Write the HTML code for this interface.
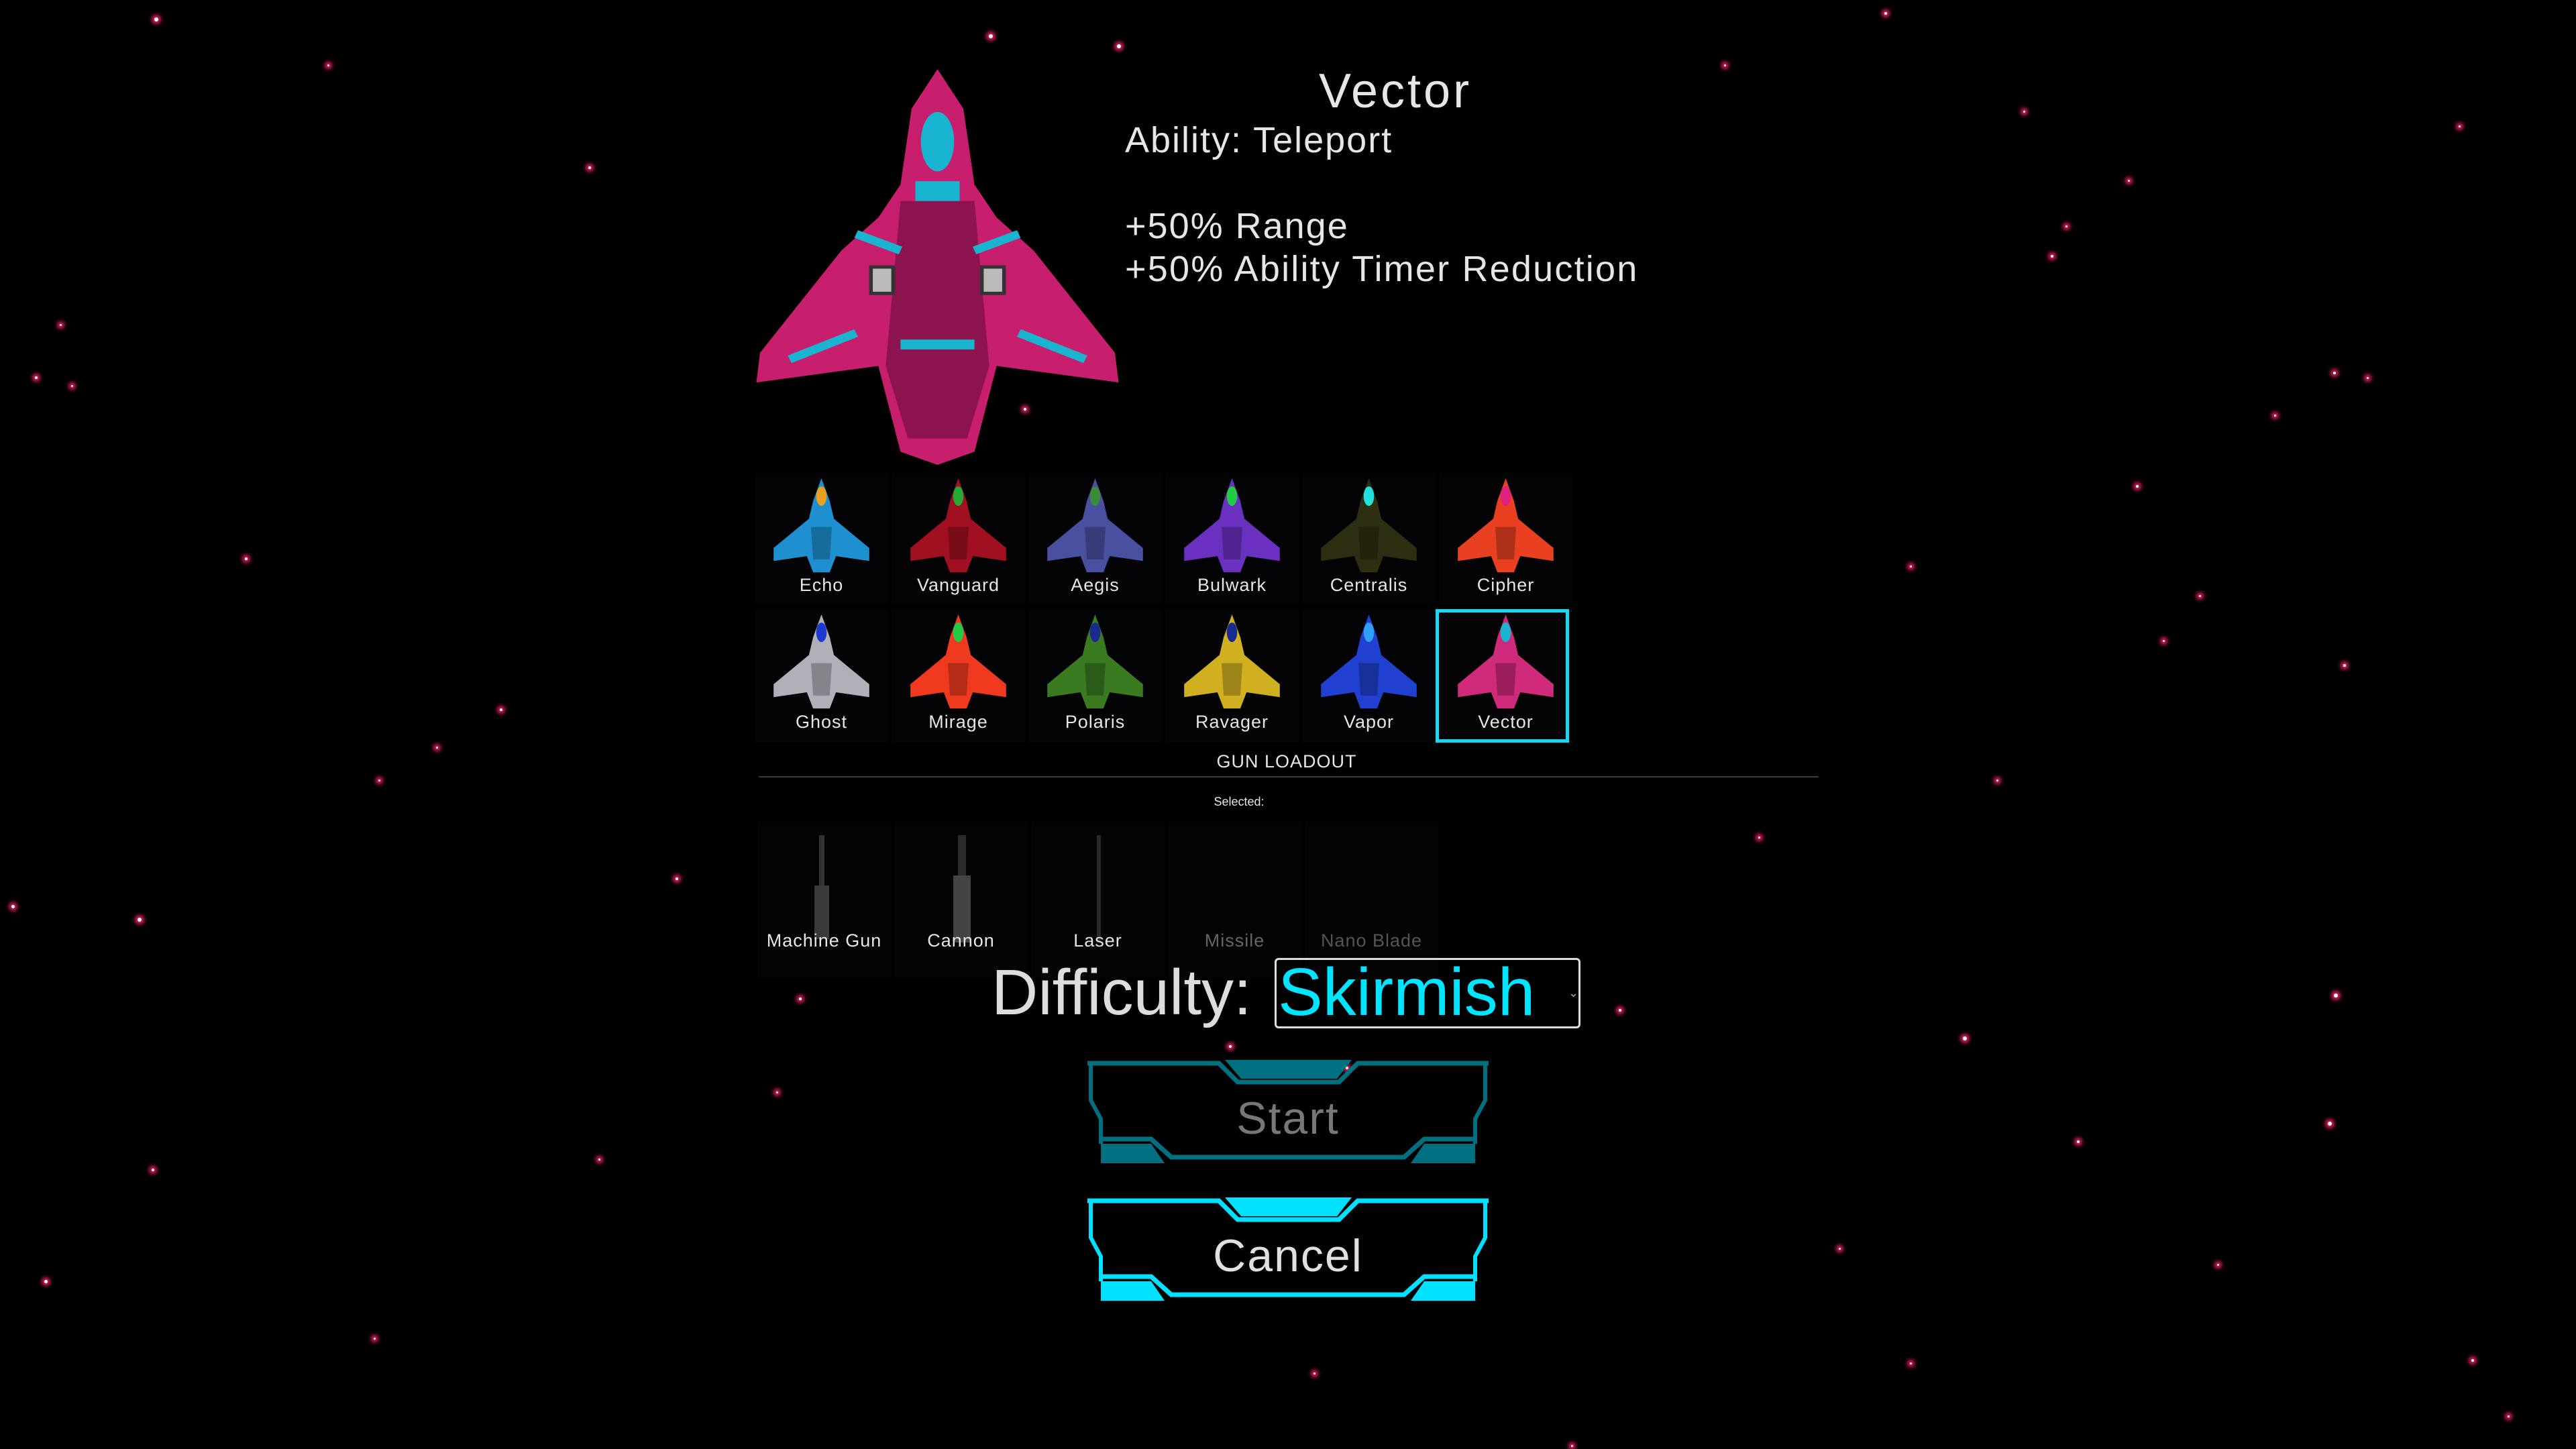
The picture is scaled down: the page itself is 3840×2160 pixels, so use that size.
<!DOCTYPE html>
<html><head><meta charset="utf-8"><style>
html,body{margin:0;padding:0;background:#000;width:3840px;height:2160px;overflow:hidden;position:relative;font-family:"Liberation Sans",sans-serif;color:#e6e6e6}
.a{position:absolute}
.star{position:absolute;border-radius:50%;background:#fff;box-shadow:0 0 6px 4px #e0205a}
.cell{position:absolute;width:199px;background:#040406}
.lbl{position:absolute;left:0;width:100%;text-align:center;font-size:27px;color:#e6e6e6;letter-spacing:1px}
.gl{position:absolute;left:0;width:100%;text-align:center;font-size:27px;letter-spacing:1px}
</style></head><body>
<svg width="0" height="0" style="position:absolute"><defs>
<g id="ship">
<path d="M50 0 L58 28 L62 50 L96 86 L96 102 L64 96 L58 116 L42 116 L36 96 L4 102 L4 86 L38 50 L42 28 Z"/>
</g>
</defs></svg>

<div id="stars"></div>

<svg class="a" style="left:1122px;top:103px" width="551" height="590" viewBox="0 0 100 120" preserveAspectRatio="none">
<path fill="#c81e6e" d="M50 0 L57 12 L60 35 L66 45 L76 55 L98 86 L99 95 L66 90 L60 116 L50 120 L40 116 L34 90 L1 95 L2 86 L24 55 L34 45 L40 35 L43 12 Z"/>
<path fill="#8e1450" d="M40 40 L60 40 L64 90 L58 112 L42 112 L36 90 Z"/>
<ellipse cx="50" cy="22" rx="4.5" ry="9" fill="#19b5d0"/>
<rect x="44" y="34" width="12" height="6" fill="#19b5d0"/>
<rect x="32" y="60" width="6" height="8" fill="#bbb" stroke="#333"/>
<rect x="62" y="60" width="6" height="8" fill="#bbb" stroke="#333"/>
<path d="M10 88 L28 80 M90 88 L72 80 M28 50 L40 55 M72 50 L60 55" stroke="#19b5d0" stroke-width="2.5"/>
<rect x="40" y="82" width="20" height="3" fill="#19b5d0"/>
</svg>

<div class="a" style="left:1830px;top:95px;width:500px;text-align:center;font-size:72px;letter-spacing:4px">Vector</div>
<div class="a" style="left:1677px;top:178px;font-size:54px;letter-spacing:2px">Ability: Teleport</div>
<div class="a" style="left:1677px;top:306px;font-size:54px;letter-spacing:2px">+50% Range</div>
<div class="a" style="left:1677px;top:370px;font-size:54px;letter-spacing:2.2px">+50% Ability Timer Reduction</div>

<div id="grid"></div>

<div class="a" style="left:2140px;top:908px;width:189px;height:189px;border:5px solid #18d8f2"></div>

<div class="a" style="left:1718px;top:1120px;width:400px;text-align:center;font-size:27px;letter-spacing:1px">GUN LOADOUT</div>
<div class="a" style="left:1131px;top:1157px;width:1580px;height:2px;background:#3a3a3a"></div>
<div class="a" style="left:1747px;top:1185px;width:200px;text-align:center;font-size:18px">Selected:</div>

<div id="guns"></div>

<div class="a" style="left:1478px;top:1425px;font-size:96px;color:#ddd">Difficulty:</div>
<div class="a" style="left:1900px;top:1428px;width:450px;height:99px;border:3px solid #ddd;border-radius:6px"></div>
<div class="a" style="left:1905px;top:1422px;font-size:100px;color:#00e5ff">Skirmish</div>
<div class="a" style="left:2338px;top:1470px;font-size:18px;color:#aaa">⌄</div>

<svg class="a" style="left:1621px;top:1580px" width="598" height="154" viewBox="0 0 598 154" fill="none" stroke="#007080">
<polyline points="0,5 196,5 224,33 375,33 403,5 598,5" stroke-width="7"/>
<polygon points="205,0 394,0 372,28 229,28" fill="#007080" stroke="none"/>
<polyline points="5,5 5,60 20,88 20,125" stroke-width="6"/>
<polyline points="593,5 593,60 578,88 578,125" stroke-width="6"/>
<polyline points="20,118 95,118 125,145 472,145 502,118 578,118" stroke-width="7"/>
<polygon points="20,125 95,125 115,154 20,154" fill="#007080" stroke="none"/>
<polygon points="578,125 502,125 482,154 578,154" fill="#007080" stroke="none"/>
</svg>
<div class="a" style="left:1621px;top:1628px;width:598px;text-align:center;font-size:68px;color:#777;letter-spacing:2px">Start</div>

<svg class="a" style="left:1621px;top:1785px" width="598" height="154" viewBox="0 0 598 154" fill="none" stroke="#00e1ff">
<polyline points="0,5 196,5 224,33 375,33 403,5 598,5" stroke-width="7"/>
<polygon points="205,0 394,0 372,28 229,28" fill="#00e1ff" stroke="none"/>
<polyline points="5,5 5,60 20,88 20,125" stroke-width="6"/>
<polyline points="593,5 593,60 578,88 578,125" stroke-width="6"/>
<polyline points="20,118 95,118 125,145 472,145 502,118 578,118" stroke-width="7"/>
<polygon points="20,125 95,125 115,154 20,154" fill="#00e1ff" stroke="none"/>
<polygon points="578,125 502,125 482,154 578,154" fill="#00e1ff" stroke="none"/>
</svg>
<div class="a" style="left:1621px;top:1833px;width:598px;text-align:center;font-size:68px;color:#e0e0e0;letter-spacing:2px">Cancel</div>

<script>
var S=2.449;
var st=[[95,12,3],[603,22,3],[681,28,3],[1148,8,2],[359,102,2],[1249,156,2],[1258,138,1.5],[37,198,1.5],[22,230,2],[44,235,1.5],[150,340,2],[305,432,2],[266,455,1.5],[231,475,1.5],[8,552,2.5],[85,560,3],[412,535,2],[487,608,2],[473,665,1.5],[93,712,2],[365,706,1.5],[28,780,2.5],[228,815,1.5],[1422,606,3],[1196,632,3],[1418,684,3],[1265,695,2],[1421,227,2],[1441,230,1.5],[1385,253,1.5],[1301,296,2],[1339,363,1.5],[1317,390,1.5],[1427,405,2],[1216,475,1.5],[1071,510,1.5],[1163,345,1.5],[1505,828,2],[1527,862,1.5],[800,836,1.5],[1163,830,1.5],[957,880,1.5],[1497,77,1.5],[1232,68,1.5],[749,637,2],[624,249,2],[1296,110,1.5],[200,40,1.5],[1050,40,1.5],[986,615,2],[470,320,1.5],[820,650,2],[1120,760,1.5],[1350,770,1.5],[60,890,1]];
var h='';st.forEach(function(s){var r=s[2]*2;h+='<div class="star" style="left:'+(s[0]*S-r/2)+'px;top:'+(s[1]*S-r/2)+'px;width:'+r+'px;height:'+r+'px"></div>';});
document.getElementById('stars').innerHTML=h;
var ships=[["Echo","#1e90d0","#e8a020"],["Vanguard","#a01020","#22aa33"],["Aegis","#4a50a0","#3a8a3a"],["Bulwark","#6a30c0","#22cc44"],["Centralis","#2e2e12","#20e0e0"],["Cipher","#e84020","#e02080"],["Ghost","#b0b0b8","#1a3ad0"],["Mirage","#f03a20","#22cc44"],["Polaris","#3a7a20","#1a2a90"],["Ravager","#d0b020","#1a2a90"],["Vapor","#2040d0","#30a0ff"],["Vector","#d02a7a","#19b5d0"]];
h='';ships.forEach(function(s,i){var c=i%6,r=Math.floor(i/6);var L=1125+c*204,T=r?908:705,H=r?199:195;
h+='<div class="cell" style="left:'+L+'px;top:'+T+'px;height:'+H+'px"><svg style="position:absolute;left:22px;top:8px" width="155" height="145" viewBox="0 0 100 120" preserveAspectRatio="none"><use href="#ship" fill="'+s[1]+'"/><ellipse cx="50" cy="22" rx="5" ry="12" fill="'+s[2]+'"/><path d="M40 60 L60 60 L58 100 L42 100Z" fill="rgba(0,0,0,0.25)"/></svg><div class="lbl" style="top:'+(r?153:152)+'px">'+s[0]+'</div></div>';});
document.getElementById('grid').innerHTML=h;
var guns=[["Machine Gun","#e6e6e6",1],["Cannon","#e6e6e6",1],["Laser","#e6e6e6",1],["Missile","#666",0],["Nano Blade","#555",0]];
h='';guns.forEach(function(g,i){var L=1129+i*204;
h+='<div class="cell" style="left:'+L+'px;top:1225px;height:232px;background:#040407">';
if(i==0)h+='<div class="a" style="left:92px;top:20px;width:8px;height:100px;background:#333"></div><div class="a" style="left:85px;top:95px;width:22px;height:80px;background:#3a3a3a"></div>';
if(i==1)h+='<div class="a" style="left:95px;top:20px;width:12px;height:70px;background:#2a2a2a"></div><div class="a" style="left:88px;top:80px;width:26px;height:100px;background:#444"></div>';
if(i==2)h+='<div class="a" style="left:98px;top:20px;width:6px;height:160px;background:#2a2a2a"></div>';
h+='<div class="gl" style="top:162px;color:'+g[1]+'">'+g[0]+'</div></div>';});
document.getElementById('guns').innerHTML=h;
</script>
</body></html>
